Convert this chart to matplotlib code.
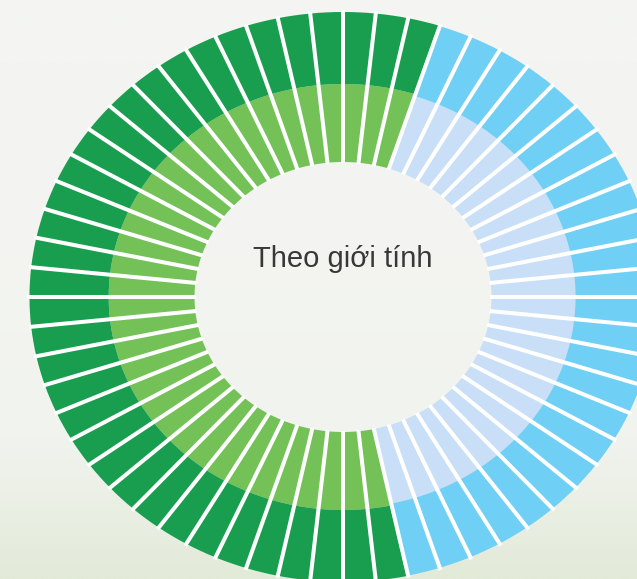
import numpy as np
import matplotlib.pyplot as plt
from matplotlib.colors import LinearSegmentedColormap

# 60 thin bars around the ring, grouped by gender
group_names = ['Nữ', 'Nam']
group_bars = [35, 25]            # number of bars per group (green, blue)
start_angle = 72                 # degrees, where the green group starts (ccw)
ring_edges = [135, 213, 285]     # inner hole, light/dark boundary, outer edge
inner_colors = ['#74c158', '#c8dff7']
outer_colors = ['#189e4e', '#6fcff5']
title = 'Theo giới tính'

n_total = sum(group_bars)
step = 2 * np.pi / n_total

fig = plt.figure(figsize=(6.37, 5.79), dpi=100)
fig.patch.set_facecolor('#f3f4f1')

# soft background gradient
bg = fig.add_axes([0, 0, 1, 1])
grad = np.linspace(0, 1, 256).reshape(-1, 1) ** 2.5
cmap = LinearSegmentedColormap.from_list('bg', ['#f4f5f2', '#f1f3ee', '#e2ead8'])
bg.imshow(grad, cmap=cmap, aspect='auto', extent=[0, 1, 0, 1])
bg.set_axis_off()

W, H = 637, 579
cx, cy = 343, 579 - 297
rlim = 300
half_h = 300
half_w = 330
ax = fig.add_axes([(cx - half_w) / W, (cy - half_h) / H, 2 * half_w / W, 2 * half_h / H],
                  projection='polar')
ax.set_aspect('auto')
ax.set_ylim(0, rlim)
ax.set_axis_off()
ax.patch.set_alpha(0)

theta0 = np.deg2rad(start_angle)
k = 0
for g, count in enumerate(group_bars):
    thetas = theta0 + step * (np.arange(count) + k + 0.5)
    k += count
    ax.bar(thetas, ring_edges[1] - ring_edges[0], width=step, bottom=ring_edges[0],
           color=inner_colors[g], linewidth=0)
    if g == 1:
        ax.bar(thetas, ring_edges[2] - ring_edges[1] - 2, width=step, bottom=ring_edges[1],
               color=outer_colors[g], edgecolor=outer_colors[g], linewidth=2.5,
               joinstyle='round')
    else:
        ax.bar(thetas, ring_edges[2] - ring_edges[1], width=step, bottom=ring_edges[1],
               color=outer_colors[g], linewidth=0)

# white separators between bars
for i in range(n_total):
    t = theta0 + step * i
    ax.plot([t, t], [ring_edges[0] - 1, ring_edges[2] + 2], color='white', lw=2.9,
            solid_capstyle='butt')

fig.text(cx / W, (579 - 259) / H, title, ha='center', va='center',
         fontsize=21, color='#383838', family=['Liberation Sans', 'DejaVu Sans'])

fig.savefig('out.png', dpi=100, facecolor=fig.get_facecolor())
